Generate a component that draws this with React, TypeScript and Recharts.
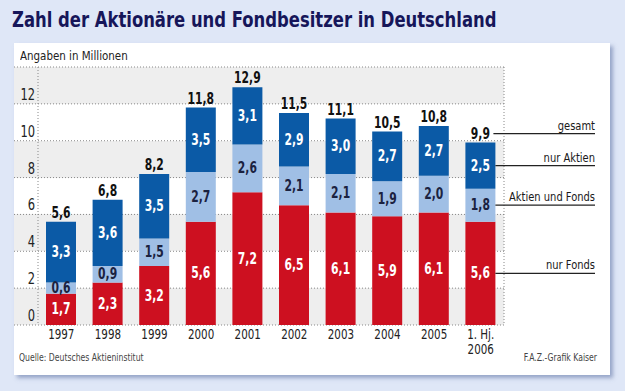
import React from "react";
import { BarChart, Bar, XAxis, YAxis, CartesianGrid, LabelList } from "recharts";

const years = ["1997", "1998", "1999", "2000", "2001", "2002", "2003", "2004", "2005", "1. Hj.\n2006"];
const nurFonds = [1.7, 2.3, 3.2, 5.6, 7.2, 6.5, 6.1, 5.9, 6.1, 5.6];
const aktienUndFonds = [0.6, 0.9, 1.5, 2.7, 2.6, 2.1, 2.1, 1.9, 2.0, 1.8];
const nurAktien = [3.3, 3.6, 3.5, 3.5, 3.1, 2.9, 3.0, 2.7, 2.7, 2.5];
const gesamt = [5.6, 6.8, 8.2, 11.8, 12.9, 11.5, 11.1, 10.5, 10.8, 9.9];
const yTicks = [0, 2, 4, 6, 8, 10, 12, 14];

const data = years.map((year, i) => ({
  year,
  nurFonds: nurFonds[i],
  aktienUndFonds: aktienUndFonds[i],
  nurAktien: nurAktien[i],
  gesamt: gesamt[i],
}));

const FONT = "'DejaVu Sans Condensed', 'DejaVu Sans', sans-serif";
const RED = "#cd1020";
const LIGHT = "#a0bfe5";
const DARK = "#0b5aa6";
const LAST = years.length - 1;
const LEGEND_RIGHT = 595;

const fmt = (v: number) => v.toFixed(1).replace(".", ",");

// svg text squeezed horizontally, the original uses a condensed face
const Narrow = ({ x, y, anchor = "middle", sx = 0.85, size = 14, bold = false, fill = "#222", children }: any) => (
  <text
    transform={`translate(${x} ${y}) scale(${sx} 1)`}
    textAnchor={anchor}
    fill={fill}
    fontFamily={FONT}
    fontWeight={bold ? "bold" : "normal"}
    fontSize={size}
  >
    {children}
  </text>
);

const legendMark = (x1: number, cy: number, legend: string) => (
  <g>
    <line x1={x1} x2={LEGEND_RIGHT} y1={cy} y2={cy} stroke="#222" strokeWidth={1.3} />
    <Narrow x={LEGEND_RIGHT} y={cy - 4} anchor="end" sx={0.85} size={13} fill="#1a1a1a">
      {legend}
    </Narrow>
  </g>
);

// label inside a segment; on the last bar also draws the legend line
const segmentLabel = (color: string, legend: string) => (props: any) => {
  const { x, y, width, height, value, index } = props;
  const cx = x + width / 2;
  const cy = y + height / 2;
  return (
    <g>
      <Narrow x={cx} y={cy + 5} sx={0.8} size={15} bold fill={color}>
        {fmt(Number(value))}
      </Narrow>
      {index === LAST && legendMark(x + width, cy, legend)}
    </g>
  );
};

const totalLabel = (props: any) => {
  const { x, y, width, value, index } = props;
  const cx = x + width / 2;
  const cy = y - 9;
  return (
    <g>
      <Narrow x={cx} y={cy + 5} sx={0.8} size={15} bold fill="#111">
        {fmt(Number(value))}
      </Narrow>
      {index === LAST && legendMark(cx + 13, cy, "gesamt")}
    </g>
  );
};

const YTick = (props: any) => {
  const { y, payload } = props;
  if (payload.value === 14) return null;
  return (
    <Narrow x={35} y={y - 4} anchor="end" sx={0.85} size={15} fill="#222">
      {payload.value}
    </Narrow>
  );
};

const XTick = (props: any) => {
  const { x, y, payload } = props;
  const lines = String(payload.value).split("\n");
  return (
    <g>
      {lines.map((l, i) => (
        <Narrow key={i} x={x} y={y + 12 + i * 15} sx={0.82} size={14} fill="#222">
          {l}
        </Narrow>
      ))}
    </g>
  );
};

export default function App() {
  return (
    <div
      style={{
        position: "absolute",
        left: 0,
        top: 0,
        width: 625,
        height: 391,
        background: "#dfe7f7",
        overflow: "hidden",
      }}
    >
      <div
        style={{
          position: "absolute",
          left: 12,
          top: 7,
          fontFamily: FONT,
          fontWeight: "bold",
          fontSize: 22,
          color: "#16165a",
          whiteSpace: "nowrap",
          transform: "scaleX(0.83)",
          transformOrigin: "left top",
        }}
      >
        Zahl der Aktionäre und Fondbesitzer in Deutschland
      </div>
      <div
        style={{
          position: "absolute",
          left: 14,
          top: 43,
          width: 596,
          height: 332,
          background: "#fff",
          boxShadow: "3px 3px 4px rgba(90,110,160,0.55)",
        }}
      />
      <div
        style={{
          position: "absolute",
          left: 20,
          top: 48,
          fontFamily: FONT,
          fontSize: 13,
          color: "#222",
          whiteSpace: "nowrap",
          transform: "scaleX(0.88)",
          transformOrigin: "left top",
        }}
      >
        Angaben in Millionen
      </div>
      <div style={{ position: "absolute", left: 0, top: 0 }}>
        <BarChart
          width={625}
          height={391}
          data={data}
          margin={{ top: 67, right: 121, left: 13, bottom: 26 }}
          barSize={30}
        >
          <CartesianGrid
            stroke="#888"
            strokeDasharray="1 2"
            horizontalFill={["#eeeeee", "#ffffff"]}
            fillOpacity={1}
            verticalPoints={[38, 504]}
          />
          <XAxis
            dataKey="year"
            axisLine={false}
            tickLine={false}
            tickSize={0}
            height={40}
            padding={{ left: 24, right: 0 }}
            interval={0}
            tick={<XTick />}
          />
          <YAxis
            width={1}
            domain={[0, 14]}
            ticks={yTicks}
            interval={0}
            axisLine={false}
            tickLine={false}
            tick={<YTick />}
          />
          <Bar dataKey="nurFonds" stackId="a" fill={RED} isAnimationActive={false}>
            <LabelList dataKey="nurFonds" content={segmentLabel("#fff", "nur Fonds")} />
          </Bar>
          <Bar dataKey="aktienUndFonds" stackId="a" fill={LIGHT} isAnimationActive={false}>
            <LabelList dataKey="aktienUndFonds" content={segmentLabel("#1b2240", "Aktien und Fonds")} />
          </Bar>
          <Bar dataKey="nurAktien" stackId="a" fill={DARK} isAnimationActive={false}>
            <LabelList dataKey="nurAktien" content={segmentLabel("#fff", "nur Aktien")} />
            <LabelList dataKey="gesamt" content={totalLabel} />
          </Bar>
        </BarChart>
      </div>
      <div
        style={{
          position: "absolute",
          left: 19,
          top: 351,
          fontFamily: FONT,
          fontSize: 11,
          color: "#444",
          whiteSpace: "nowrap",
          transform: "scaleX(0.78)",
          transformOrigin: "left top",
        }}
      >
        Quelle: Deutsches Aktieninstitut
      </div>
      <div
        style={{
          position: "absolute",
          right: 28,
          top: 351,
          fontFamily: FONT,
          fontSize: 11,
          color: "#444",
          whiteSpace: "nowrap",
          transform: "scaleX(0.78)",
          transformOrigin: "right top",
        }}
      >
        F.A.Z.-Grafik Kaiser
      </div>
    </div>
  );
}
